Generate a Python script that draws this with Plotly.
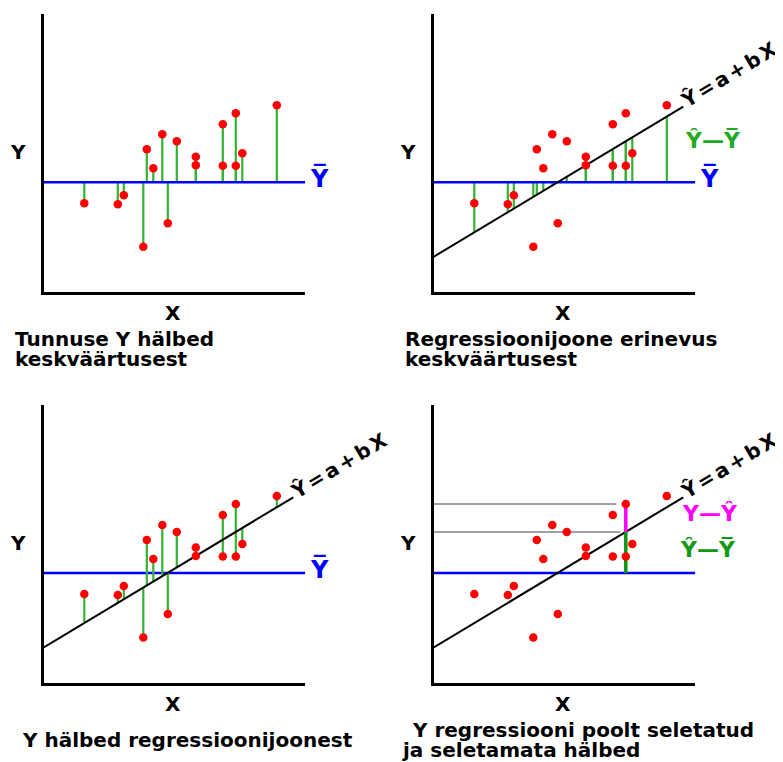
import plotly.graph_objects as go

# ---------------- data ----------------
x_vals = [42, 75.5, 81.5, 101, 104.5, 111, 120, 125.5, 134.5, 153.5, 153.5,
          180.5, 180.5, 193.5, 193.5, 200, 234.5]
y_vals = [90, 89, 98, 46.5, 144, 125, 159, 70, 152, 136.5, 128,
          169, 127.5, 180, 127.5, 140, 188]
y_mean = 111
reg_x = [0, 251]
reg_y = [35.7, 186.7]
axis_x_max = 263
axis_y_max = 279
highlight = 13                      # point used to show the decomposition
guide_x_end = [184, 188]            # gray guide lines (to Y and to Y-hat)

titles = [
    ["Tunnuse Y hälbed", "keskväärtusest"],
    ["Regressioonijoone erinevus", "keskväärtusest"],
    ["Y hälbed regressioonijoonest"],
    ["Y regressiooni poolt seletatud", "ja seletamata hälbed"],
]

# ---------------- helpers ----------------
slope = (reg_y[1] - reg_y[0]) / (reg_x[1] - reg_x[0])


def fitted(x):
    return reg_y[0] + slope * (x - reg_x[0])


def segments(xs, y_from, y_to):
    sx, sy = [], []
    for x, a, b in zip(xs, y_from, y_to):
        sx += [x, x, None]
        sy += [a, b, None]
    return sx, sy


# page has an 8px body margin: figure is shifted, so work in page pixels
OFF = 8
W, H = 783, 762
FW, FH = W - OFF, H - OFF


def pxx(px):
    return (px - OFF) / FW


def pxy(py):
    return 1 - (py - OFF) / FH


LW = 3
FONT = "DejaVu Sans"
HATY = "\u0176"
BARY = "Y\u0305"

RED = "#ff0000"
BLUE = "#0000ff"
GREEN = "#33b233"
DGREEN = "#0f960f"
MAGENTA = "#ff00ff"
GRAY = "#a0a0a0"

panels = {1: (42.3, 293.3), 2: (432.3, 293.3), 3: (42.3, 684.0), 4: (432.3, 684.0)}

fig = go.Figure()
layout = dict(width=FW, height=FH, margin=dict(l=0, r=0, t=0, b=0),
              paper_bgcolor="white", plot_bgcolor="white", showlegend=False)

annotations = []


def ann(px, py, text, font, **kw):
    d = dict(x=pxx(px), y=pxy(py), xref="paper", yref="paper", text=text,
             showarrow=False, font=font, xanchor="center", yanchor="middle")
    d.update(kw)
    annotations.append(d)


for i, (left, bottom) in panels.items():
    sfx = "" if i == 1 else str(i)
    xa, ya = "x" + sfx, "y" + sfx
    x0 = pxx(left + LW / 2)
    x1 = pxx(left + axis_x_max)
    y0 = pxy(bottom - LW / 2)
    y1 = pxy(bottom - axis_y_max)
    common = dict(showline=True, linewidth=LW, linecolor="black", mirror=False,
                  showgrid=False, zeroline=False, showticklabels=False,
                  ticks="", fixedrange=True)
    layout["xaxis" + sfx] = dict(domain=[x0, x1], range=[LW / 2, axis_x_max],
                                 anchor=ya, **common)
    layout["yaxis" + sfx] = dict(domain=[y0, y1], range=[LW / 2, axis_y_max],
                                 anchor=xa, **common)

    def add_line(x, y, color, width):
        fig.add_trace(go.Scatter(x=x, y=y, mode="lines", xaxis=xa, yaxis=ya,
                                 line=dict(color=color, width=width),
                                 hoverinfo="skip"))

    mean_x = [0, axis_x_max]
    mean_y = [y_mean, y_mean]
    yhat = [fitted(x) for x in x_vals]

    if i == 1:
        sx, sy = segments(x_vals, y_vals, [y_mean] * len(x_vals))
        add_line(sx, sy, GREEN, 2.2)
        add_line(mean_x, mean_y, BLUE, 2.5)
    elif i == 2:
        sx, sy = segments(x_vals, yhat, [y_mean] * len(x_vals))
        add_line(sx, sy, GREEN, 2.2)
        add_line(mean_x, mean_y, BLUE, 2.5)
        add_line(reg_x, reg_y, "black", 2)
    elif i == 3:
        add_line(mean_x, mean_y, BLUE, 2.5)
        sx, sy = segments(x_vals, y_vals, yhat)
        add_line(sx, sy, GREEN, 2.2)
        add_line(reg_x, reg_y, "black", 2)
    else:
        hx = x_vals[highlight]
        hy = y_vals[highlight]
        add_line([0, guide_x_end[0]], [hy, hy], GRAY, 2)
        add_line([0, guide_x_end[1]], [fitted(hx), fitted(hx)], GRAY, 2)
        add_line(mean_x, mean_y, BLUE, 2.5)
        add_line(reg_x, reg_y, "black", 2)
        add_line([hx, hx], [y_mean, fitted(hx)], DGREEN, 3.5)
        add_line([hx, hx], [fitted(hx), hy], MAGENTA, 3.5)

    fig.add_trace(go.Scatter(x=x_vals, y=y_vals, mode="markers", xaxis=xa, yaxis=ya,
                             marker=dict(color=RED, size=8.5, line=dict(width=0)),
                             hoverinfo="skip"))

    lab = dict(family=FONT, size=20, color="black", weight="bold")
    ann(left - 24.3, bottom - 141, "Y", lab)
    ann(left + 131, bottom + 20, "X", lab)
    if i in (1, 2, 3):
        ann(left + 277, bottom - 115, BARY,
            dict(family=FONT, size=24, color=BLUE, weight="bold"))
    if i in (2, 3, 4):
        ann(left + 298, bottom - 219,
            "<span style='letter-spacing:3px'>" + HATY + "=a+bX</span>",
            dict(family=FONT, size=20, color="black", weight="bold"), textangle=-31)
    if i == 2:
        ann(left + 281, bottom - 153, HATY + "\u2014" + BARY,
            dict(family=FONT, size=22, color="#22aa22", weight="bold"))
    if i == 4:
        ann(left + 278, bottom - 171, "Y\u2014" + HATY,
            dict(family=FONT, size=22, color=MAGENTA, weight="bold"))
        ann(left + 276, bottom - 135, HATY + "\u2014" + BARY,
            dict(family=FONT, size=22, color="#109a10", weight="bold"))

# titles (page pixel positions)
title_pos = [
    [(13, 339), (13, 358.5)],
    [(403, 339), (403, 358.5)],
    [(20, 740)],
    [(410, 730), (400, 750)],
]
for lines, poss in zip(titles, title_pos):
    for txt, (px, py) in zip(lines, poss):
        ann(px, py, txt, dict(family=FONT, size=20, color="black", weight="bold"),
            xanchor="left", yanchor="middle")

layout["annotations"] = annotations
fig.update_layout(**layout)
fig.write_html("out.html")
